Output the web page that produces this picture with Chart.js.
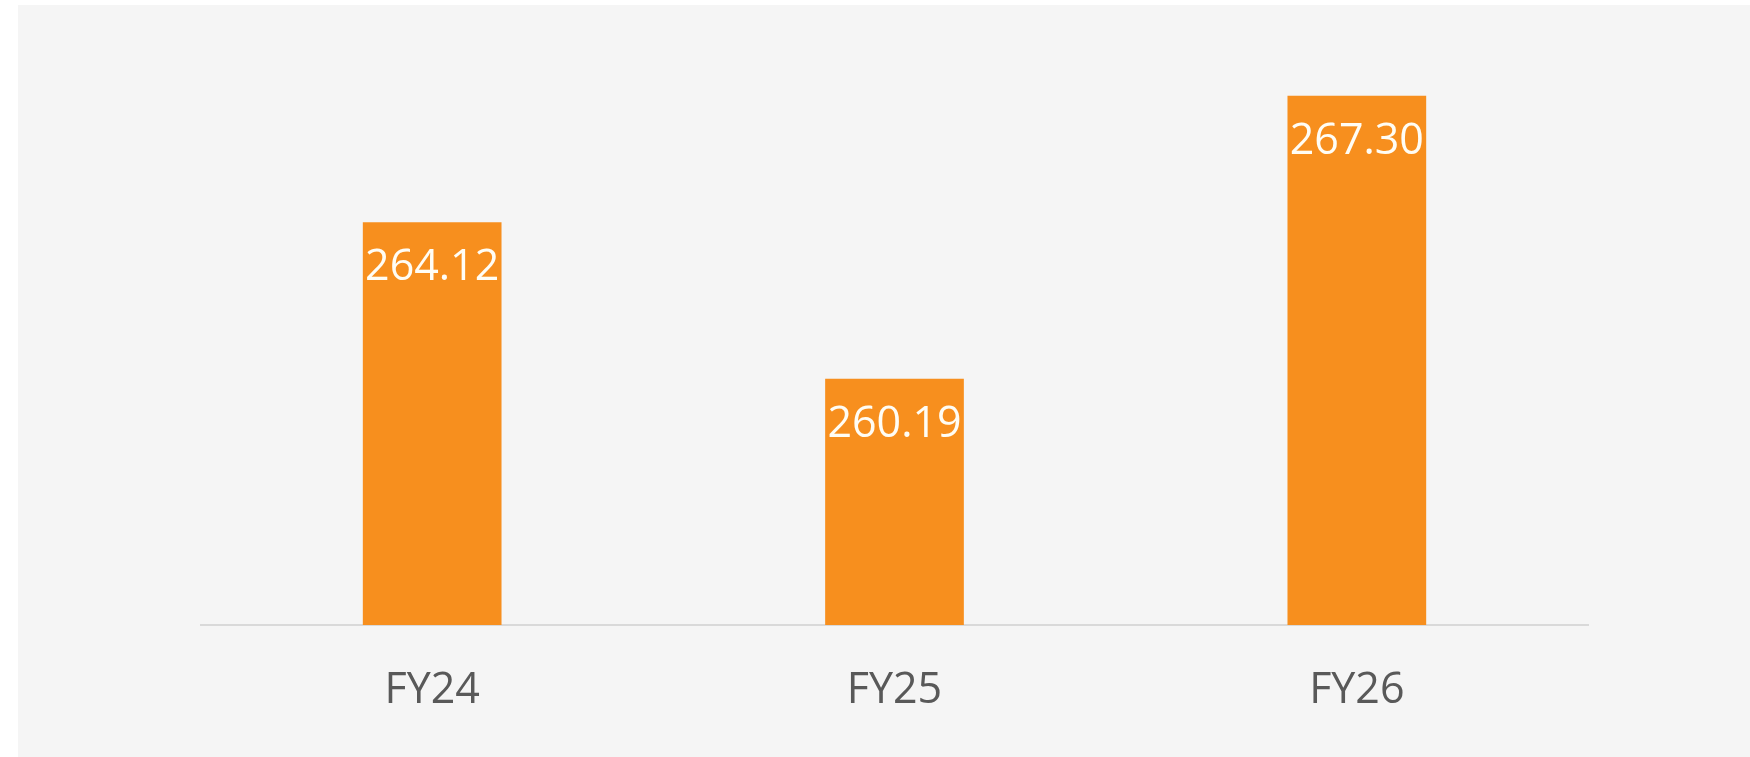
<!DOCTYPE html>
<html>
<head>
<meta charset="utf-8">
<script src="https://cdn.jsdelivr.net/npm/chart.js@4"></script>
<style>
  html, body { margin: 0; padding: 0; background: #ffffff; }
  #wrap { width: 1750px; height: 757px; }
</style>
</head>
<body>
<div id="wrap"><canvas id="chart" width="1750" height="757"></canvas></div>
<script>
// chart data
const categories = ['FY24', 'FY25', 'FY26'];
const values = [264.12, 260.19, 267.30];
const yMin = 254;
const yMax = 268;

const FONT = '"Open Sans", Lato, sans-serif';

// light grey panel behind the chart
const panelBg = {
    id: 'panelBg',
    beforeDraw(chart) {
        const ctx = chart.ctx;
        ctx.save();
        ctx.fillStyle = '#f5f5f5';
        ctx.fillRect(18, 5, chart.width - 18, chart.height - 5);
        ctx.restore();
    }
};

// value labels inside the top of each bar
const barLabels = {
    id: 'barLabels',
    afterDatasetsDraw(chart) {
        const ctx = chart.ctx;
        const meta = chart.getDatasetMeta(0);
        ctx.save();
        ctx.font = '43px ' + FONT;
        ctx.fillStyle = '#fffdf5';
        ctx.textAlign = 'center';
        ctx.textBaseline = 'alphabetic';
        meta.data.forEach((bar, i) => {
            ctx.fillText(values[i].toFixed(2), bar.x, bar.y + 58);
        });
        ctx.restore();
    }
};

const ctx = document.getElementById('chart').getContext('2d');
new Chart(ctx, {
    type: 'bar',
    data: {
        labels: categories,
        datasets: [{
            data: values,
            backgroundColor: '#f78f1e',
            borderWidth: 0,
            barPercentage: 0.3,
            categoryPercentage: 1
        }]
    },
    options: {
        responsive: false,
        animation: false,
        layout: {
            padding: { left: 201, right: 162, top: 68, bottom: 40 }
        },
        scales: {
            x: {
                grid: { display: false, drawTicks: false },
                border: { display: true, color: '#d9d9d9', width: 2 },
                ticks: {
                    color: '#595959',
                    padding: 40,
                    font: { family: FONT, size: 43 }
                },
                afterFit(scale) {
                    scale.height = 92;
                }
            },
            y: {
                display: false,
                min: yMin,
                max: yMax
            }
        },
        plugins: {
            legend: { display: false },
            tooltip: { enabled: false }
        }
    },
    plugins: [panelBg, barLabels]
});
</script>
</body>
</html>
